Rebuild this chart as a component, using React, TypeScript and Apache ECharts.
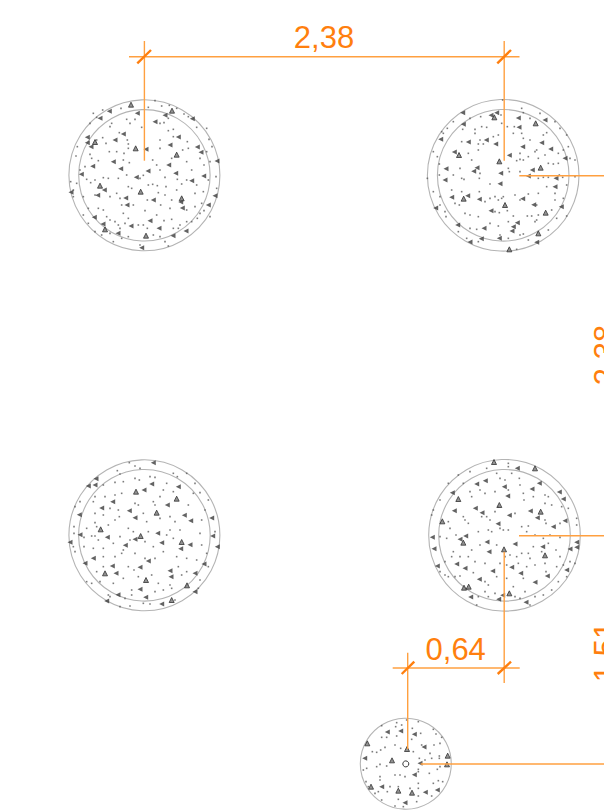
import React, { useEffect, useRef } from "react";
import * as echarts from "echarts";

type P = number[];

const hollow1: P[] = [[336,62],[227,175],[350,194],[120,287],[242,305],[365,325],[258,437],[105,156],[135,418],[213,44]];
const dart1: P[] = [[148,64],[120,85],[232,70],[315,76],[285,95],[397,86],[82,142],[82,158],[93,170],[190,132],[165,150],[258,178],[355,141],[330,165],[412,171],[423,187],[471,213],[160,215],[98,229],[182,236],[64,253],[326,225],[347,250],[264,243],[229,262],[431,258],[395,272],[133,300],[33,307],[113,316],[197,324],[280,330],[362,336],[465,317],[201,345],[367,354],[445,345],[103,382],[129,402],[213,408],[270,392],[297,415],[174,430],[339,437],[378,423],[245,473]];
const dots1: P[] = [[285,32],[305,48],[328,46],[183,55],[265,52],[350,55],[372,72],[385,80],[410,112],[128,60],[100,70],[90,100],[110,82],[155,100],[150,110],[200,88],[210,100],[245,112],[225,88],[300,100],[325,85],[325,122],[340,118],[312,98],[340,140],[300,150],[382,155],[385,175],[368,180],[300,175],[335,205],[278,210],[202,150],[205,162],[205,175],[178,128],[128,143],[138,160],[110,150],[148,185],[170,185],[192,190],[190,210],[208,218],[115,212],[90,193],[95,205],[60,240],[48,198],[52,170],[75,230],[440,115],[447,148],[456,170],[450,215],[440,185],[432,225],[420,205],[395,240],[380,270],[365,282],[410,285],[430,305],[445,270],[468,260],[470,295],[405,310],[290,225],[300,240],[315,262],[380,215],[352,268],[278,283],[292,287],[265,285],[250,256],[240,265],[200,255],[175,265],[145,265],[130,263],[105,270],[80,268],[92,278],[50,280],[32,275],[40,300],[40,320],[70,320],[105,315],[180,325],[130,360],[115,355],[140,380],[150,390],[165,395],[190,370],[205,385],[185,345],[220,345],[255,362],[262,330],[295,308],[315,315],[335,330],[330,355],[302,345],[290,375],[312,392],[335,388],[360,405],[355,415],[420,370],[432,362],[412,385],[395,395],[450,380],[425,340],[405,350],[380,360],[350,300],[318,290],[215,295],[205,290],[170,310],[150,320],[85,355],[70,375],[85,400],[105,425],[125,435],[150,430],[185,445],[205,440],[235,405],[250,405],[262,415],[280,435],[300,440],[315,455],[325,468],[240,465],[160,455],[195,400],[180,415],[175,405],[340,415],[380,395]];

const hollow2: P[] = [[223,82],[347,100],[117,195],[131,326],[255,345],[377,368],[362,233],[268,478],[238,214],[355,430]];
const dart2: P[] = [[128,68],[213,76],[230,68],[295,84],[375,90],[130,103],[297,112],[62,148],[145,156],[199,150],[227,162],[365,158],[308,170],[392,177],[103,186],[268,196],[435,205],[78,236],[171,233],[161,244],[242,250],[337,240],[325,258],[408,265],[75,270],[240,281],[405,290],[95,322],[143,317],[178,328],[308,326],[341,344],[47,354],[424,350],[213,362],[113,405],[192,415],[292,398],[280,410],[276,423],[184,446],[150,456],[238,445],[350,457]];
const dots2: P[] = [[248,30],[305,55],[310,68],[100,95],[150,85],[182,80],[243,75],[262,110],[245,100],[283,110],[330,85],[360,70],[405,95],[420,115],[380,128],[370,135],[185,110],[200,112],[165,130],[165,118],[128,118],[70,130],[65,125],[82,115],[220,140],[180,150],[175,162],[190,162],[125,155],[145,190],[155,210],[175,180],[235,135],[280,130],[305,130],[330,150],[350,180],[345,185],[310,145],[300,190],[325,200],[310,210],[300,208],[290,212],[355,205],[375,195],[385,220],[400,222],[415,220],[415,190],[430,180],[445,170],[450,205],[465,210],[440,135],[40,185],[52,200],[58,222],[58,255],[22,265],[100,255],[120,235],[125,265],[132,268],[180,250],[178,265],[210,282],[265,235],[268,245],[300,245],[355,265],[370,262],[385,262],[418,255],[428,262],[465,260],[440,285],[380,290],[355,310],[325,312],[285,315],[300,330],[245,325],[225,320],[210,325],[178,305],[125,305],[95,300],[40,305],[60,345],[60,320],[118,345],[105,340],[75,365],[78,380],[135,370],[150,375],[175,380],[195,335],[235,330],[250,320],[225,365],[238,368],[262,362],[280,378],[322,378],[335,378],[350,345],[395,360],[410,385],[440,378],[265,395],[235,408],[210,400],[150,415],[115,425],[170,418],[240,435],[265,445],[300,435],[310,432],[325,450],[290,478],[175,455],[140,445],[345,395],[355,375],[385,420],[405,330],[430,325],[405,310],[350,390]];

const hollow3: P[] = [[122,238],[242,258],[350,146],[381,406],[258,390],[135,370],[335,450],[228,125],[290,188],[365,276]];
const dart3: P[] = [[280,38],[108,86],[85,108],[105,105],[275,102],[355,110],[252,120],[158,155],[322,165],[125,174],[208,182],[58,194],[373,196],[225,203],[392,212],[455,204],[60,254],[142,262],[225,268],[293,250],[458,258],[30,277],[305,278],[390,284],[196,286],[362,296],[472,290],[100,325],[265,333],[75,340],[157,348],[432,342],[240,352],[330,362],[405,370],[168,370],[333,380],[240,418],[174,434],[257,442],[305,462],[140,453],[405,425]];
const dots3: P[] = [[208,38],[225,48],[240,55],[172,62],[180,72],[270,80],[285,82],[225,85],[238,90],[190,95],[165,97],[130,105],[340,70],[352,80],[380,70],[405,100],[420,128],[60,155],[45,170],[105,140],[100,155],[135,140],[165,135],[185,130],[225,160],[235,165],[250,190],[280,155],[285,165],[175,180],[150,175],[105,190],[130,195],[178,200],[165,210],[105,218],[110,230],[145,225],[205,235],[220,245],[80,235],[42,230],[72,262],[95,258],[105,258],[115,270],[42,250],[45,305],[40,290],[72,290],[130,295],[100,295],[160,280],[180,260],[190,300],[210,270],[185,310],[165,320],[130,320],[260,215],[300,205],[330,200],[265,245],[255,275],[280,290],[320,255],[340,265],[330,240],[360,240],[345,215],[425,210],[435,180],[385,165],[445,150],[400,130],[340,125],[310,120],[300,140],[320,100],[420,250],[425,285],[465,245],[440,310],[410,330],[380,325],[350,320],[310,305],[285,325],[255,325],[225,310],[205,350],[222,360],[130,350],[110,365],[95,400],[80,395],[120,395],[160,400],[190,385],[235,380],[215,420],[215,435],[195,445],[145,435],[150,440],[275,375],[295,400],[330,405],[310,420],[335,415],[355,350],[365,375],[380,365],[285,425],[250,460],[270,462],[210,468],[180,470],[345,450],[415,415],[445,350],[420,390]];

const hollow4: P[] = [[222,36],[115,147],[238,165],[362,185],[67,214],[130,278],[375,316],[252,298],[146,410],[268,430],[345,55],[132,413]];
const dart4: P[] = [[292,55],[170,102],[196,92],[358,100],[97,128],[336,117],[253,110],[263,138],[418,126],[430,147],[166,175],[103,182],[186,188],[331,183],[352,203],[435,212],[268,196],[234,221],[400,230],[37,262],[120,268],[137,258],[201,276],[285,282],[368,290],[42,296],[470,277],[207,305],[450,297],[470,292],[110,342],[135,355],[52,348],[275,352],[218,363],[302,370],[440,360],[382,378],[178,388],[345,397],[152,441],[248,436],[318,457],[236,448]];
const dots4: P[] = [[265,40],[265,50],[200,55],[150,65],[230,70],[240,85],[275,70],[298,85],[300,105],[255,90],[180,120],[195,130],[150,125],[115,75],[85,100],[130,100],[155,140],[60,150],[40,180],[35,195],[225,125],[265,120],[310,130],[312,150],[340,140],[375,135],[385,140],[395,165],[375,160],[425,170],[445,175],[470,205],[235,170],[225,185],[200,200],[210,210],[185,200],[145,220],[130,200],[135,210],[85,215],[90,235],[60,260],[80,265],[108,255],[175,245],[205,240],[215,245],[240,235],[250,240],[265,240],[285,190],[305,230],[325,228],[320,245],[375,210],[378,220],[420,220],[470,225],[345,255],[370,265],[390,255],[420,262],[408,300],[385,280],[365,305],[340,290],[325,310],[330,325],[305,310],[290,320],[270,315],[255,320],[230,285],[180,285],[155,300],[100,305],[95,320],[75,335],[120,320],[145,320],[165,335],[195,340],[240,340],[260,345],[295,340],[345,345],[375,340],[378,365],[420,320],[430,345],[410,350],[465,340],[60,365],[85,380],[120,378],[160,368],[195,395],[205,405],[230,380],[260,385],[320,350],[310,385],[315,425],[280,410],[205,440],[225,430],[170,465],[175,440],[195,425],[285,440],[300,445],[330,465],[345,440],[370,435],[395,420],[440,380],[415,395],[450,335],[75,375],[105,380]];

const hollow5: P[] = [[63,470],[186,488],[171,357],[293,377],[291,403],[126,391],[52,340],[145,482]];
const dart5: P[] = [[112,306],[152,303],[193,313],[222,351],[44,385],[210,400],[193,434],[95,470],[226,487],[262,480],[165,518]];
const dots5: P[] = [[170,270],[205,275],[140,278],[95,287],[137,290],[155,285],[187,295],[250,298],[258,312],[275,322],[212,310],[95,322],[110,322],[140,318],[185,328],[67,365],[80,367],[92,360],[105,352],[152,355],[135,345],[215,345],[252,345],[270,340],[190,365],[208,385],[225,390],[245,385],[268,378],[268,385],[240,370],[80,410],[90,403],[110,408],[50,415],[40,420],[150,435],[135,435],[165,440],[205,418],[205,425],[238,430],[270,410],[262,418],[90,440],[90,450],[48,455],[55,470],[250,460],[278,455],[265,452],[205,460],[205,475],[205,498],[180,475],[120,470],[145,470],[112,485],[85,485],[75,490],[145,508],[135,528],[160,530],[245,498],[200,515],[95,510]];

const crops: P[] = [[60,90],[420,90],[60,450],[420,450],[350,630]];
const hollowLists = [hollow1, hollow2, hollow3, hollow4, hollow5];
const dartLists = [dart1, dart2, dart3, dart4, dart5];
const dotLists = [dots1, dots2, dots3, dots4, dots5];

// [cx, cy, r]
const rings: P[] = [
  [144.4,175.3,75.5],[144.4,175.3,65.7],
  [503.2,175.3,75.8],[503.2,175.3,65.8],
  [144.4,535.3,75.5],[144.4,535.3,65.8],
  [504.5,535.3,75.8],[504.5,535.3,65.8],
  [405.8,763.7,45.5],
];
const pileCore: P[] = [[405.8,763.9,3]];

// [x1, y1, x2, y2]
const leaders: P[] = [
  [129,56.7,519.5,56.7],[144.4,41,144.4,160.7],[504.2,41,504.2,160.7],
  [519.3,175.7,604,175.7],[519,535.7,604,535.7],
  [504.2,551.7,504.2,683],[392.7,668,519.7,668],[407.7,652.7,407.7,749.3],
  [420.7,764,604,764],
];
const ticks: P[] = [
  [137.3,63.3,151,50],[497.3,63.3,511,50],
  [401.7,674,414.3,661.7],[497.7,674,511,661.7],
];

const dimensionTexts = ["2,38", "2,38", "0,64", "1,51"];
// [x, y, quarter turns]
const dimensionSpots: P[] = [[324,37,0],[605.5,355,1],[455.7,649,0],[605.5,652,1]];

const place = (lists: P[][]) =>
  lists.flatMap((list, i) => list.map(([x, y]) => [crops[i][0] + x / 3, crops[i][1] + y / 3]));

const lineItem = (stroke: string, width: number) => (_p: any, api: any) => {
  const a = api.coord([api.value(0), api.value(1)]);
  const b = api.coord([api.value(2), api.value(3)]);
  return {
    type: "line",
    shape: { x1: a[0], y1: a[1], x2: b[0], y2: b[1] },
    style: { stroke, lineWidth: width, fill: "none" },
  };
};
const ringItem = (stroke: string, width: number) => (_p: any, api: any) => {
  const c = api.coord([api.value(0), api.value(1)]);
  const r = api.size([api.value(2), 0])[0];
  return {
    type: "circle",
    shape: { cx: c[0], cy: c[1], r },
    style: { stroke, lineWidth: width, fill: "none" },
  };
};

export default function App() {
  const ref = useRef<HTMLDivElement>(null);
  useEffect(() => {
    const chart = echarts.init(ref.current!, undefined, { renderer: "svg" });
    chart.setOption({
      animation: false,
      backgroundColor: "#ffffff",
      grid: { left: 0, right: 0, top: 0, bottom: 0 },
      xAxis: { type: "value", min: 0, max: 604, show: false },
      yAxis: { type: "value", min: 0, max: 810, inverse: true, show: false },
      series: [
        { type: "custom", name: "rings", data: rings, renderItem: ringItem("#b4b4b4", 1.1), silent: true, z: 2 },
        {
          type: "scatter", name: "dots", data: place(dotLists), symbol: "rect", symbolSize: 1.6,
          itemStyle: { color: "#5a5a5a" }, silent: true, z: 3,
        },
        {
          type: "scatter", name: "darts", data: place(dartLists), symbol: "triangle", symbolSize: [5, 5],
          symbolRotate: 90, itemStyle: { color: "#3c3c3c" }, silent: true, z: 3,
        },
        {
          type: "scatter", name: "hollow", data: place(hollowLists), symbol: "triangle", symbolSize: 5,
          itemStyle: { color: "#777777", borderColor: "#333333", borderWidth: 1 }, silent: true, z: 3,
        },
        { type: "custom", name: "core", data: pileCore, renderItem: ringItem("#333333", 1), silent: true, z: 4 },
        { type: "custom", name: "leaders", data: leaders, renderItem: lineItem("#ffa040", 1.4), silent: true, z: 5 },
        { type: "custom", name: "ticks", data: ticks, renderItem: lineItem("#ff7f0e", 2.4), silent: true, z: 6 },
        {
          type: "custom", name: "dimensions", data: dimensionSpots, silent: true, z: 7,
          renderItem: (p: any, api: any) => {
            const c = api.coord([api.value(0), api.value(1)]);
            return {
              type: "text", x: c[0], y: c[1], rotation: (api.value(2) * Math.PI) / 2,
              style: {
                text: dimensionTexts[p.dataIndex], fontSize: 31, fontFamily: "Liberation Sans",
                fill: "#ff7f0e", align: "center", verticalAlign: "middle",
              },
            };
          },
        },
      ],
    });
    return () => chart.dispose();
  }, []);
  return <div ref={ref} style={{ position: "fixed", left: 0, top: 0, width: 604, height: 810 }} />;
}
